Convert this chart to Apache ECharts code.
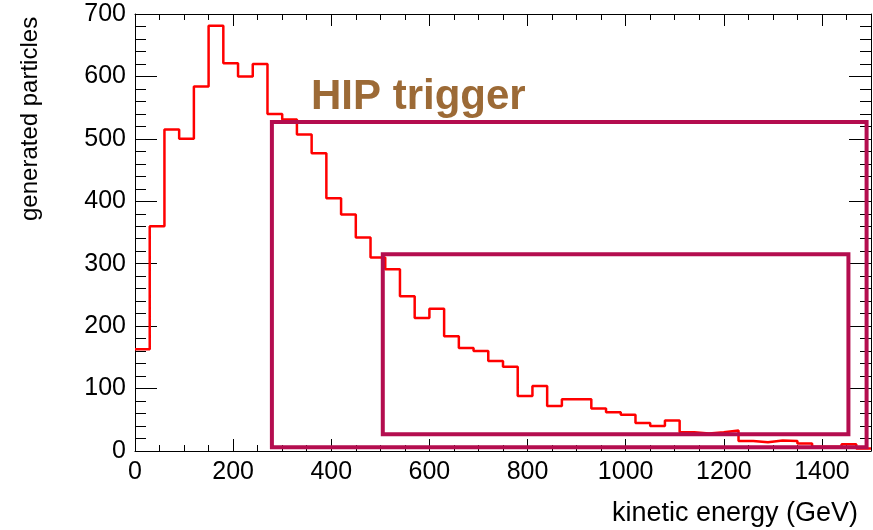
<!DOCTYPE html>
<html>
<head>
<meta charset="utf-8">
<script src="https://cdn.jsdelivr.net/npm/echarts@6/dist/echarts.min.js"></script>
<style>
  html, body { margin: 0; padding: 0; background: #fff; }
  #chart { width: 873px; height: 530px; }
</style>
</head>
<body>
<div id="chart"></div>
<script>
// lower edge of each 30 GeV bin
const binEdges = [0, 30, 60, 90, 120, 150, 180, 210, 240, 270,
  300, 330, 360, 390, 420, 450, 480, 510, 540, 570,
  600, 630, 660, 690, 720, 750, 780, 810, 840, 870,
  900, 930, 960, 990, 1020, 1050, 1080, 1110, 1140, 1170,
  1200, 1230, 1260, 1290, 1320, 1350, 1380, 1410, 1440, 1470]
const binEnd = 1500

// generated particles per bin
const counts = [163, 360, 515, 500, 584, 681, 621, 600, 620, 540,
  531, 507, 477, 405, 379, 342, 310, 291, 248, 213,
  228, 184, 165, 160, 144, 135, 88, 104, 72, 83,
  83, 68, 62, 58, 45, 40, 49, 30, 28, 30,
  33, 16, 14, 17, 16, 12, 7, 7, 11, 4]

// trigger regions (kinetic energy, particles)
const outerBox = [[279, 6], [1491, 6], [1491, 527], [279, 527], [279, 6]]
const innerBox = [[505, 27], [1454, 27], [1454, 315], [505, 315], [505, 27]]

const xTitle = 'kinetic energy (GeV)'
const yTitle = 'generated particles'
const boxLabel = 'HIP trigger'

const font = 'Liberation Sans, Arial, Helvetica, sans-serif'

const histData = binEdges.map((e, i) => [e, counts[i]])
histData.push([binEnd, counts[counts.length - 1]])

function xAxisOf(position, showLabel) {
  return {
    type: 'value',
    min: 0,
    max: 1500,
    interval: 200,
    position,
    axisLine: { show: true, onZero: false, lineStyle: { color: '#000', width: 1 } },
    axisTick: { show: true, inside: true, length: 12, lineStyle: { color: '#000', width: 1 } },
    minorTick: { show: true, splitNumber: 4, length: 6, lineStyle: { color: '#000', width: 1 } },
    axisLabel: {
      show: showLabel,
      color: '#000',
      fontSize: 25,
      fontFamily: font,
      margin: 9,
      showMaxLabel: false,
      formatter: v => String(v),
    },
    splitLine: { show: false },
    minorSplitLine: { show: false },
  }
}

function yAxisOf(position, showLabel) {
  return {
    type: 'value',
    min: 0,
    max: 700,
    interval: 100,
    position,
    axisLine: { show: true, onZero: false, lineStyle: { color: '#000', width: 1 } },
    axisTick: { show: true, inside: true, length: 22, lineStyle: { color: '#000', width: 1 } },
    minorTick: { show: true, splitNumber: 5, length: 11, lineStyle: { color: '#000', width: 1 } },
    axisLabel: { show: showLabel, color: '#000', fontSize: 25, fontFamily: font, margin: 9, formatter: v => String(v) },
    splitLine: { show: false },
    minorSplitLine: { show: false },
  }
}

function boxSeries(data) {
  return {
    type: 'line',
    data,
    symbol: 'none',
    z: 5,
    silent: true,
    lineStyle: { color: '#b40d4f', width: 4, join: 'miter', cap: 'square' },
  }
}

const chart = echarts.init(document.getElementById('chart'), null, { renderer: 'canvas' })

chart.setOption({
  animation: false,
  backgroundColor: '#fff',
  grid: { left: 135, right: 2, top: 14, bottom: 79, containLabel: false },
  xAxis: [xAxisOf('bottom', true), xAxisOf('top', false)],
  yAxis: [yAxisOf('left', true), yAxisOf('right', false)],
  series: [
    {
      type: 'line',
      data: histData,
      step: 'end',
      symbol: 'none',
      z: 3,
      lineStyle: { color: '#ff0000', width: 2.5 },
    },
    boxSeries(outerBox),
    boxSeries(innerBox),
  ],
  graphic: [
    {
      type: 'text',
      left: 311,
      top: 76,
      style: { text: boxLabel, fill: '#9c6a36', font: 'bold 42px ' + font },
    },
    {
      type: 'text',
      x: 42,
      y: 221,
      rotation: Math.PI / 2,
      style: { text: yTitle, fill: '#000', font: '24px ' + font, textAlign: 'left', textVerticalAlign: 'bottom' },
    },
    {
      type: 'text',
      x: 858,
      y: 514,
      style: { text: xTitle, fill: '#000', font: '27px ' + font, textAlign: 'right', textVerticalAlign: 'middle' },
    },
  ],
})
</script>
</body>
</html>
